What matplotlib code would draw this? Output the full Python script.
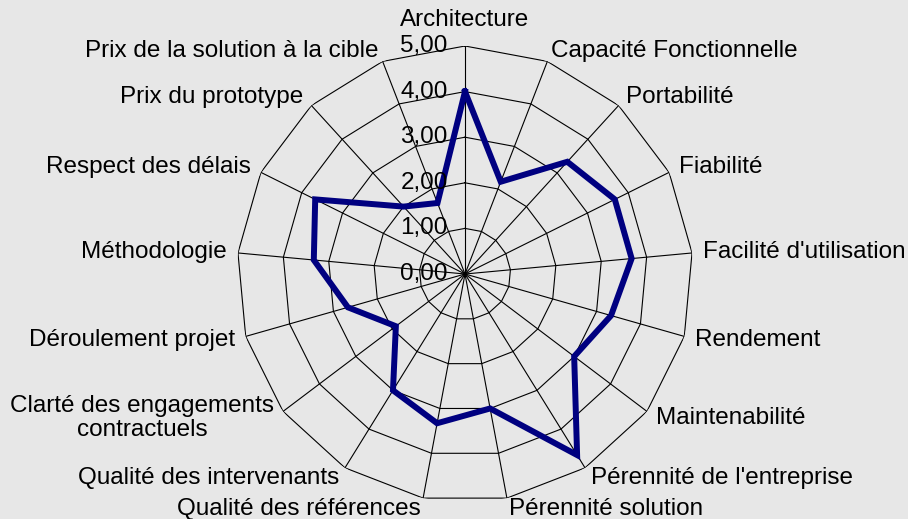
import numpy as np
import matplotlib
matplotlib.use("Agg")
import matplotlib.pyplot as plt

plt.rcParams['font.family'] = ['Liberation Sans', 'DejaVu Sans']

categories = [
    "Architecture", "Capacité Fonctionnelle", "Portabilité", "Fiabilité",
    "Facilité d'utilisation", "Rendement", "Maintenabilité",
    "Pérennité de l'entreprise", "Pérennité solution", "Qualité des références",
    "Qualité des intervenants", "Clarté des engagements\ncontractuels",
    "Déroulement projet", "Méthodologie", "Respect des délais",
    "Prix du prototype", "Prix de la solution à la cible",
]
values = [4.0, 2.17, 3.33, 3.67, 3.67, 3.33, 3.0, 4.67, 3.0, 3.33, 3.0,
          1.9, 2.67, 3.33, 3.67, 2.0, 1.67]
ring_values = [1, 2, 3, 4, 5]
tick_labels = ["0,00", "1,00", "2,00", "3,00", "4,00", "5,00"]

W, H = 908, 519
fig = plt.figure(figsize=(W / 100, H / 100), dpi=100)
bg = "#e7e7e7"
fig.patch.set_facecolor(bg)

cx, cy, R = 465, 274, 228
ax = fig.add_axes([(cx - R) / W, (H - cy - R) / H, 2 * R / W, 2 * R / H],
                  projection='polar')
ax.set_theta_offset(np.pi / 2)
ax.set_theta_direction(-1)
ax.set_ylim(0, 5)
ax.grid(False)
ax.set_xticks([])
ax.set_yticks([])
ax.spines['polar'].set_visible(False)
ax.patch.set_visible(False)

n = len(categories)
angles = np.arange(n) * 2 * np.pi / n
closed = np.append(angles, angles[0])

# polygonal rings
for rv in ring_values:
    ax.plot(closed, [rv] * (n + 1), color='black', lw=0.8, zorder=1)
# spokes
for a in angles:
    ax.plot([a, a], [0, 5], color='black', lw=0.8, zorder=1)

# data series
ax.plot(closed, values + values[:1], color='#000080', lw=4.3,
        solid_joinstyle='miter', zorder=3)

# radial tick labels
for i, t in enumerate(tick_labels):
    ax.annotate(t, xy=(0, i), xytext=(-12.5, 0), textcoords='offset points',
                ha='right', va='center', fontsize=17.5, color='black', zorder=4)

# category labels
for a, lab in zip(angles, categories):
    s = np.sin(a)
    if abs(s) < 0.05:
        ax.text(a, 5.33, lab, ha='center', va='bottom', fontsize=17.5)
        continue
    ha = 'left' if s > 0 else 'right'
    ax.text(a, 5.25, lab, ha=ha, va='center', fontsize=17.5,
            multialignment='center', linespacing=1.1)

fig.savefig("out.png", dpi=100, facecolor=bg)
